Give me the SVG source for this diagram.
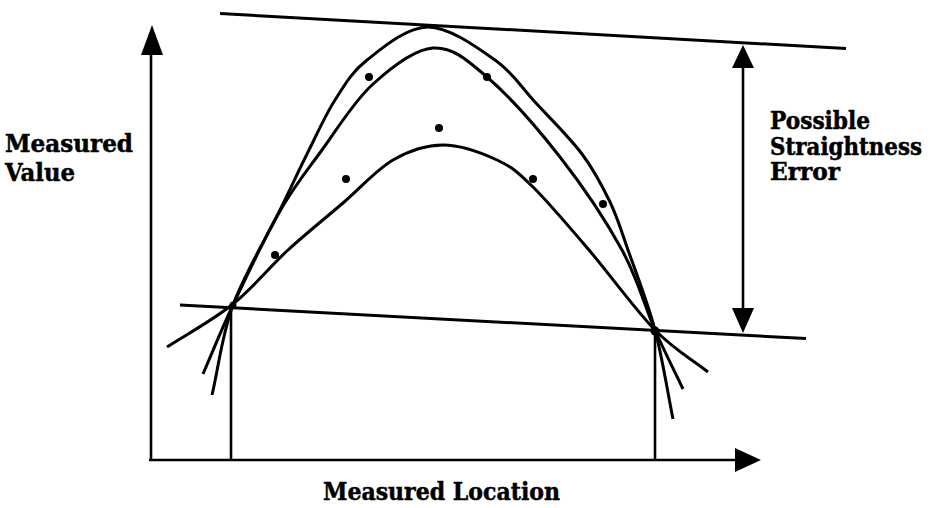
<svg xmlns="http://www.w3.org/2000/svg" width="934" height="508" viewBox="0 0 934 508">
<style>
.ln{fill:none;stroke:#000;stroke-width:3}
.ax{fill:none;stroke:#000;stroke-width:2.6}
.ah{fill:#000;stroke:none}
.dot{fill:#000}
.lb{font-family:"DejaVu Serif","Liberation Serif",serif;font-weight:bold;font-size:24px;fill:#000;stroke:#000;stroke-width:0.5}
</style>
<rect width="934" height="508" fill="#fff"/>
<g id="connectors">
  <g id="axes">
    <line class="ax" x1="151" y1="52" x2="151" y2="461"/>
    <polygon class="ah" points="152,25 141,55 163,55"/>
    <line class="ax" x1="149" y1="460" x2="737" y2="460"/>
    <polygon class="ah" points="761,460 735,448 735,472"/>
  </g>
  <g id="verticals">
    <line class="ax" x1="231" y1="308" x2="231" y2="460"/>
    <line class="ax" x1="655" y1="330" x2="655" y2="460"/>
  </g>
  <g id="boundary-lines">
    <line class="ln" x1="220" y1="13.5" x2="846" y2="48.5"/>
    <line class="ln" x1="180" y1="305" x2="806" y2="338.5"/>
  </g>
  <g id="error-arrow">
    <line class="ax" x1="743" y1="62" x2="743" y2="313"/>
    <polygon class="ah" points="743,45 732,68 754,68"/>
    <polygon class="ah" points="743,333 732,308 754,308"/>
  </g>
  <g id="curves">
    <path id="curve-outer" class="ln" d="M212,395 C219,365 221.7,335.8 233,305 C244.3,274.2 267.5,235.5 280,210 C292.5,184.5 298.8,170.3 308,152 C317.2,133.7 325.2,115.3 335,100 C344.8,84.7 351.5,72.2 367,60 C382.5,47.8 406.7,27 428,27 C449.3,27 477.2,47.5 495,60 C512.8,72.5 520.5,86.3 535,102 C549.5,117.7 569.5,137.3 582,154 C594.5,170.7 602.3,186 610,202 C617.7,218 620.5,228.7 628,250 C635.5,271.3 647.5,301.8 655,330 C662.5,358.2 667,389.3 673,419"/>
    <path id="curve-middle" class="ln" d="M203,374 C213,351 220.2,332.2 233,305 C245.8,277.8 265.2,236.8 280,211 C294.8,185.2 306.7,171 322,150 C337.3,129 353.5,102 372,85 C390.5,68 413.8,49.3 433,48 C452.2,46.7 465.8,58.8 487,77 C508.2,95.2 537.5,128.2 560,157 C582.5,185.8 606.2,221.2 622,250 C637.8,278.8 644.8,306.8 655,330 C665.2,353.2 673.7,369.3 683,389"/>
    <path id="curve-lower" class="ln" d="M167,347 C189,333 212.8,320.2 233,304 C253.2,287.8 269.7,266.8 288,250 C306.3,233.2 325.5,218 343,203 C360.5,188 376.3,169.7 393,160 C409.7,150.3 425.7,145 443,145 C460.3,145 482,153 497,160 C512,167 517.7,172 533,187 C548.3,202 568.7,226.2 589,250 C609.3,273.8 635.2,309.7 655,330 C674.8,350.3 690.3,358 708,372"/>
  </g>
</g>
<g id="points">
  <circle class="dot" cx="369" cy="77" r="4"/>
  <circle class="dot" cx="487" cy="77" r="4"/>
  <circle class="dot" cx="439" cy="128" r="4"/>
  <circle class="dot" cx="346" cy="179" r="4"/>
  <circle class="dot" cx="533" cy="179" r="4"/>
  <circle class="dot" cx="275" cy="255" r="4"/>
  <circle class="dot" cx="603" cy="204" r="4"/>
  <circle class="dot" cx="655" cy="331" r="4.5"/>
  <circle class="dot" cx="233" cy="305" r="3.5"/>
</g>
<g id="label-y">
  <text class="lb" x="5" y="152" textLength="128" lengthAdjust="spacingAndGlyphs">Measured</text>
  <text class="lb" x="5" y="181" textLength="70" lengthAdjust="spacingAndGlyphs">Value</text>
</g>
<g id="label-error">
  <text class="lb" x="770" y="129" textLength="100" lengthAdjust="spacingAndGlyphs">Possible</text>
  <text class="lb" x="770" y="155" textLength="152" lengthAdjust="spacingAndGlyphs">Straightness</text>
  <text class="lb" x="770" y="180" textLength="70" lengthAdjust="spacingAndGlyphs">Error</text>
</g>
<g id="label-x">
  <text class="lb" x="323" y="500" textLength="237" lengthAdjust="spacingAndGlyphs">Measured Location</text>
</g>
</svg>
